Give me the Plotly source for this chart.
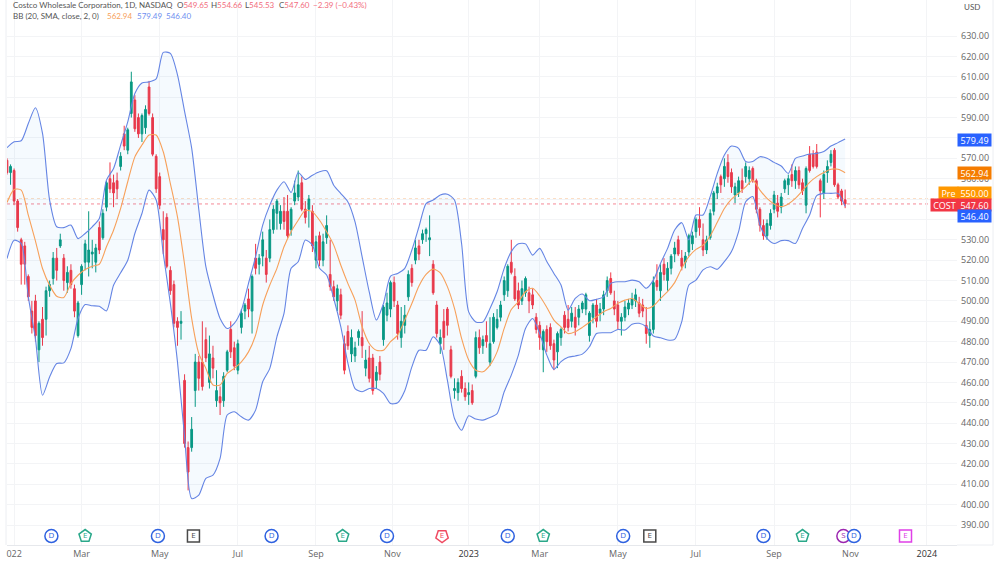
import pandas as pd
import plotly.graph_objects as go

# Candles, one per two sessions: (open, high, low, close)
candles_2022_h1 = [
    (569,570,562,563),(563,567,557,566),(564,565,547,549),(549,550,534,536),(530,531,508,518),
    (527,529,508,518),(512,513,500,502),(495,500,484,487),(500,503,480,483),(476,490,470,489),
    (491,497,478,482),(491,507,483,505),(505,510,502,508),(511,524,508,521),(521,526,510,515),
    (527,533,526,530),(521,523,505,510),(509,517,504,514),(515,518,506,508),(506,508,492,495),
    (483,500,482,499),(508,518,503,517),(519,530,515,528),(519,544,512,525),(523,530,516,524),
    (519,528,514,526),(536,539,523,525),(531,545,530,543),(546,559,544,558),(560,568,553,555),
    (558,562,546,553),(559,563,550,555),(566,573,564,571),(582,586,574,576),(574,585,572,584),
    (592,612.5,590,607.5),(598.6,601,583,584.5),(590,592,580,582),(582,592,578,591),(585,596,582,594),
    (605,608,591,592),(590,592,571,572),(571,572,553,555),(561,563,545,547),(535,544,523,530),
    (541,543,516,517),(515,517,503,505),(508,510,487,489),(490,492,478,487),(489,495,481,490),
    (461,464,428,430),(428,431,407,416),(428,443,426,437),(456,474,448,470),(470,473,456,462),
    (470,490,456,458),(481,487,470,472),(460,483,457,474),(472,478,462,467),(451,466,448,456),
    (453,458,444,450),(451,465,448,463),(466,476,465,475),(486,490,472,475),(477,480,466,468),
]
candles_2022_h2 = [
    (466,481,464,479),(487,496,484,494),(495,499,491,498),(501,506,492,496),(495,513,484,512),
    (521,528,513,516),(518,523,513,521),(522,534,517,530),(521,525,509,513),(521,540,519,535),
    (535,547,533,545),(543,550,535,549),(538,547,535,544),(544,551,535,539),(544,552,531,532),
    (535,546,532,545),(549,559,547,553),(551,564,549,557),(558,561,544,545),(545,549,538,541),
    (545,552,536,550),(544,547,524,527),(520,532,516,529),(532,534,517,520),(520,533,517,529),
    (531,542,528,537),(513,530,505,507),(507,510,500,502),(500,508,495,506),(503,506,491,493),
    (479,483,464,466),(485,488,476,478),(474,486,470,482),(473,480,470,477),(482,486,478,485),
    (482,495,472,478),(467,476,463,471),(472,478,460,462),(472,474,454,456),(461,468,457,465),
    (470,473,461,464),(481,498,478,497),(493,504,490,499),(496,510,492,509),(509,512,497,500),
    (498,500,481,484),(482,497,477,490),(488,498,484,493),(502,515,500,513),(516,518,507,509),
    (520,530,518,526),(527,530,520,523),(530,535,528,533),(533,536,529,535),(530,542,522,531),
    (518,520,503,504),(498,500,482,484),(479,486,474,482),(490,496,476,482),(496,497,483,488),
    (476,478,462,463),(456,462,452,457),(455,462,451,460),(463,466,455,457),(457,460,451,453),
    (454,460,449,455),(456,459,449,450),
]
candles_2023_h1 = [
    (463,485,462,482),(482,486,474,477),(478,483,474,481),(483,490,477,480),(470,492,468,479),
    (480,494,479,492),(487,496,486,491),(492,500,490,498),(503,512,500,510),(505,518,502,517),
    (519,530,513,514),(512,516,500,501),(505,509,496,498),(500,510,498,506),(504,512,502,511),
    (504,507,494,500),(503,506,496,498),(492,494,484,486),(488,490,476,482),(476,486,465,485),
    (486,488,475,480),(487,489,476,478),(479,481,466,471),(475,485,467,484),(482,487,478,486),
    (493,495,484,487),(491,498,485,487),(490,497,487,494),(492,497,483,487),(492,498,488,496),
    (496,500,494,499),(496,504,493,503),(483,495,480,494),(492,499,489,498),(498,501,487,490),
    (494,499,490,496),(496,505,493,503),(505,512,502,510),(511,514,503,504),(500,505,493,496),
    (498,500,486,490),(490,494,483,492),(492,500,490,497),(496,501,493,499),(498,504,496,501),
    (500,506,497,503),(499,502,492,494),(498,501,492,495),(488,497,479,484),(483,490,477,486),
    (486,512,484,509),(510,518,505,507),(505,518,500,514),(518,521,510,513),(510,519,505,516),
    (516,523,513,522),(523,529,519,526),(530,532,522,523),(521,525,515,517),(519,524,516,522),
]
candles_2023_h2 = [
    (524,533,522,532),(528,534,525,532),(534,541,531,540),(540,546,532,536),(530,538,522,525),
    (525,532,523,530),(531,545,530,543),(544,554,542,553),(553,558,550,556),(561,562,553,557),
    (560,570,556,566),(568,572,558,561),(563,565,553,556),(552,558,548,556),(553,561,551,559),
    (559,565,553,555),(561,568,558,566),(560,566,557,564),(565,566,558,559),(559,560,543,545),
    (545,546,534,537),(537,540,530,532),(532,540,530,538),(537,545,535,543),(545,554,543,552),
    (548,552,541,544),(546,553,543,551),(555,560,553,559),(557,562,552,560),(562,567,556,559),
    (559,566,555,564),(564,566,555,557),(558,560,552,554),(547,566,543,565),(572,576,563,564),
    (572,574,565,566),(573,577,565,566),(559,560,541,554),(553,564,550,562),(563,569,558,566),
    (568,574,566,572),(574,575,556,557),(557,558,550,551),(554,555,547,549),(549.65,554.66,545.53,547.60),
]

# Bollinger bands, one value per four sessions
bb_upper = [
    575.2,578.1,578.6,587.1,594.8,582.2,549.5,536.4,536,537.2,530.6,533.1,536.4,540.5,559.3,565,576.5,587.9,601.8,607,
    607.5,609,622,621.5,611,593,575,545,516.8,502.9,491.4,486.5,489,495.5,508.6,521.7,537.2,547,554.4,558.5,
    553.2,563,559.6,561.7,563.4,563.9,556.8,552.7,548.6,538.8,521.6,504.4,490.6,498.7,512.2,513.5,516,525,536.4,547.8,
    549.5,552,552.4,549.5,528.2,494.6,489.7,489.7,496.3,504.5,516,524.2,528,528,522.5,525.8,519.3,513.5,507.8,495.5,
    501.2,503.4,500.1,500.8,502,508.6,509.4,509.4,510.2,509.4,506.2,510.2,518.4,525.8,534.8,538.4,529.9,542.2,542.2,551.2,
    562.6,571.6,576,574.9,568.4,568.4,570.8,570,568,566.2,562.6,570,571.1,572.1,572.4,573.3,576,577.7,579.49,
]
bb_basis = [
    548.3,554.7,554.4,542.1,529.5,515.9,507.7,502.3,501.7,508.5,512.6,515.4,517,518,526.6,534.7,545.4,558.5,570.7,576.5,
    581.4,581.4,573.2,557.6,541.3,518,491.4,474.2,466.9,458.7,458.7,464.4,466.9,470.1,475,483.2,498,507.8,516,526.6,
    534,539.6,544.5,543.7,539.6,533.9,527.4,517.5,508.5,500.4,487.3,479.1,475.8,475.8,480,483.2,490.6,498.7,507.3,513,
    515.6,513.8,507,496.3,481.6,471,466,465.2,468.5,475,486.5,495.8,499.6,504.5,506.2,502.4,496.8,490.6,487.3,484,
    484.9,487,489.5,492.2,494.7,496.3,498.8,500.4,501.2,498.8,496.3,497.5,501.2,504.6,509,516,521.7,525.3,527.4,531.9,
    538.6,545.4,550,552.8,556,559.3,554.4,550.3,547.6,546.3,547.6,550.3,554.1,558.2,561,563,564.6,564.6,562.94,
]
bb_lower = [
    520.8,529.8,528.2,502,481.5,453.7,462.7,469.3,469.6,476.6,491.4,498.2,497.6,497.4,495.1,507.7,513.8,520,533.1,542.9,
    554.4,549.5,523.3,498.8,470.1,433.3,403,404.7,412.9,414.5,422.7,444,445.6,443.1,441.5,446.4,460.3,466.9,482.4,493.9,
    516,519.2,529.9,527.4,516,512.7,501.2,487.3,469.3,457,455.4,457,457,454.6,449.6,450,455.9,467.6,475.8,475.8,
    482.4,478.3,461.1,442.3,436.5,443.6,442,441.5,442.8,444.7,455.4,463.6,473.4,486.5,491.4,484,473.4,466.4,470.2,472.3,
    473,473.9,477.5,484,484.4,484.4,486,485.7,488.5,489,487.3,482.8,481.9,480.8,481.1,489.8,507.8,510.2,515.2,516.8,
    515.5,519.3,524.2,534,548.7,551.2,537.3,530.7,528.2,529.6,529.6,528.2,535.6,542.2,551.7,552.8,552.8,552.8,546.40,
]

# Event dates
dividend_dates = ["2022-02-07","2022-05-02","2022-07-29","2022-10-28","2023-02-01","2023-05-03","2023-08-22","2023-11-01"]
earn_beat_dates = ["2022-03-04","2022-09-23","2023-03-01","2023-09-21"]
earn_miss_dates = ["2022-12-12"]
earn_flat_dates = ["2022-05-30","2023-05-24"]
earn_next_dates = ["2023-12-12"]
split_dates = ["2023-10-24"]

# Axis labels
x_tick_dates = ["2022-01-07","2022-03-02","2022-05-03","2022-07-04","2022-09-02","2022-11-02","2023-01-02",
                "2023-02-27","2023-04-28","2023-06-29","2023-08-30","2023-10-30","2023-12-28"]
x_tick_labels = ["022","Mar","May","Jul","Sep","Nov","2023","Mar","May","Jul","Sep","Nov","2024"]
y_ticks = list(range(390, 640, 10))
y_ticks_under_tags = [540, 550, 580]

last_close = 547.60
pre_price = 550.00

GREEN, RED = "#089981", "#f23645"
BAND = "#6585e4"
ORANGE = "#f7a05a"
FONT = "Open Sans, sans-serif"
HEAD_FONT = "Lato, sans-serif"

W, H = 1000, 563
L, R, T, B = 7, 43, 0, 18
PW, PH = W - L - R, H - T - B
px = lambda v: (v - L) / PW
py = lambda v: 1 - (v - T) / PH

all_candles = candles_2022_h1 + candles_2022_h2 + candles_2023_h1 + candles_2023_h2
opens, highs, lows, closes = map(list, zip(*all_candles))
candle_dates = pd.bdate_range("2022-01-03", periods=len(all_candles), freq="2B").strftime("%Y-%m-%d").tolist()
band_dates = pd.bdate_range("2022-01-03", periods=len(bb_upper), freq="4B").strftime("%Y-%m-%d").tolist()

band_line = dict(color=BAND, width=1.1, shape="spline", smoothing=0.7)
fig = go.Figure()
fig.add_trace(go.Scatter(x=band_dates, y=bb_upper, mode="lines", line=band_line, hoverinfo="skip"))
fig.add_trace(go.Scatter(x=band_dates, y=bb_lower, mode="lines", line=band_line,
                         fill="tonexty", fillcolor="rgba(33,150,243,0.045)", hoverinfo="skip"))
fig.add_trace(go.Scatter(x=band_dates, y=bb_basis, mode="lines",
                         line=dict(color=ORANGE, width=1.1, shape="spline", smoothing=0.7), hoverinfo="skip"))
fig.add_trace(go.Candlestick(x=candle_dates, open=opens, high=highs, low=lows, close=closes,
                             increasing=dict(line=dict(color=GREEN, width=1), fillcolor=GREEN),
                             decreasing=dict(line=dict(color=RED, width=1), fillcolor=RED),
                             hoverinfo="skip"))

EVENT_Y = 384.6
def events(dates, text, color, symbol, angle=0, size=13):
    fig.add_trace(go.Scatter(
        x=dates, y=[EVENT_Y] * len(dates), mode="markers+text", text=[text] * len(dates),
        textposition="middle center", textfont=dict(color=color, size=8, family=FONT),
        marker=dict(symbol=symbol, size=size, color="white", angle=angle, line=dict(color=color, width=1.5)),
        cliponaxis=False, hoverinfo="skip"))

events(split_dates, "S", "#9c27b0", "circle")
events(dividend_dates, "D", "#2f62e0", "circle")
events(earn_beat_dates, "E", "#2aa88a", "pentagon")
events(earn_miss_dates, "E", "#f04a62", "pentagon", angle=180)
events(earn_flat_dates, "E", "#4a4a4a", "square", size=12)
events(earn_next_dates, "E", "#e040e8", "square", size=12)

shapes = [
    dict(type="line", xref="paper", x0=0, x1=1, yref="y", y0=pre_price, y1=pre_price, layer="below",
         line=dict(color="#f9b77f", width=1, dash="dot")),
    dict(type="line", xref="paper", x0=0, x1=1, yref="y", y0=last_close, y1=last_close, layer="below",
         line=dict(color="#f58a97", width=1, dash="dot")),
    dict(type="line", xref="paper", yref="paper", x0=px(6), x1=px(6), y0=0, y1=1, line=dict(color="#eceef2", width=1)),
    dict(type="line", xref="paper", yref="paper", x0=px(993), x1=px(993), y0=0, y1=1, line=dict(color="#eceef2", width=1)),
    dict(type="line", xref="paper", yref="paper", x0=px(957), x1=px(993), y0=0, y1=0, line=dict(color="#eceef2", width=1)),
]

def label(x, y, text, color, size=8, anchor="left"):
    return dict(xref="paper", yref="paper", x=px(x), y=py(y), text=text, showarrow=False, xanchor=anchor, yanchor="middle",
                font=dict(family=HEAD_FONT, size=size, color=color), borderpad=0)

def tag(x, y, w, text, bg):
    return dict(xref="paper", yref="paper", x=px(x), y=py(y), text=text, showarrow=False, xanchor="left", yanchor="middle",
                width=w, height=12, align="center", bgcolor=bg, borderpad=0,
                font=dict(family=FONT, size=9, color="white"))

val = "#f26d7d"
ink = "#555555"
annotations = [
    label(12, 5, "Costco Wholesale Corporation, 1D, NASDAQ", ink),
    label(176, 5, f'<span style="color:{ink}">O</span>549.65', val),
    label(210, 5, f'<span style="color:{ink}">H</span>554.66', val),
    label(244, 5, f'<span style="color:{ink}">L</span>545.53', val),
    label(278, 5, f'<span style="color:{ink}">C</span>547.60', val),
    label(312, 5, "−2.39 (−0.43%)", val),
    label(12, 16, "BB (20, SMA, close, 2, 0)", ink),
    label(106, 16, "562.94", "#f7a05a"),
    label(136, 16, "579.49", "#6f8ff0"),
    label(165, 16, "546.40", "#6f8ff0"),
    label(972, 7, "USD", ink, anchor="center"),
    tag(957, 140, 33, "579.49", "#2962ff"),
    tag(957, 173, 33, "562.94", "#f57c00"),
    tag(938, 193, 19, "Pre", "#ff9800"),
    tag(957, 193, 33, "550.00", "#ff9800"),
    tag(930, 205, 27, "COST", "#f23645"),
    tag(957, 205, 33, "547.60", "#f23645"),
    tag(957, 216, 33, "546.40", "#2962ff"),
]

ticks_text = [f'<span style="color:#333333">{t}</span>' if t in ("2023", "2024") else t for t in x_tick_labels]
y_text = ["" if v in y_ticks_under_tags else f"{v:.2f}" for v in y_ticks]

fig.update_layout(
    width=W, height=H, showlegend=False, paper_bgcolor="white", plot_bgcolor="white",
    margin=dict(l=L, r=R, t=T, b=B, autoexpand=False), hovermode=False,
    font=dict(family=FONT, color="#666666", size=9),
    shapes=shapes, annotations=annotations,
    xaxis=dict(type="date", range=["2022-01-03", "2024-01-22"], rangeslider=dict(visible=False),
               rangebreaks=[dict(bounds=["sat", "mon"])],
               tickmode="array", tickvals=x_tick_dates, ticktext=ticks_text, tickangle=0,
               tickfont=dict(size=9, color="#666666", family=FONT), ticks="", showgrid=True, gridcolor="#f3f4f6", gridwidth=1,
               showline=True, linecolor="#e6e8ec", linewidth=1, zeroline=False),
    yaxis=dict(side="right", range=[380.2, 647.7], tickmode="array", tickvals=y_ticks,
               ticktext=y_text, tickfont=dict(size=9, color="#666666", family=FONT), ticks="", ticklabelstandoff=3,
               showgrid=True, gridcolor="#f3f4f6", gridwidth=1, showline=False, zeroline=False),
)

fig.write_html("out.html", config=dict(displayModeBar=False),
               post_script="document.body.style.margin='0';document.body.style.overflow='hidden';")
